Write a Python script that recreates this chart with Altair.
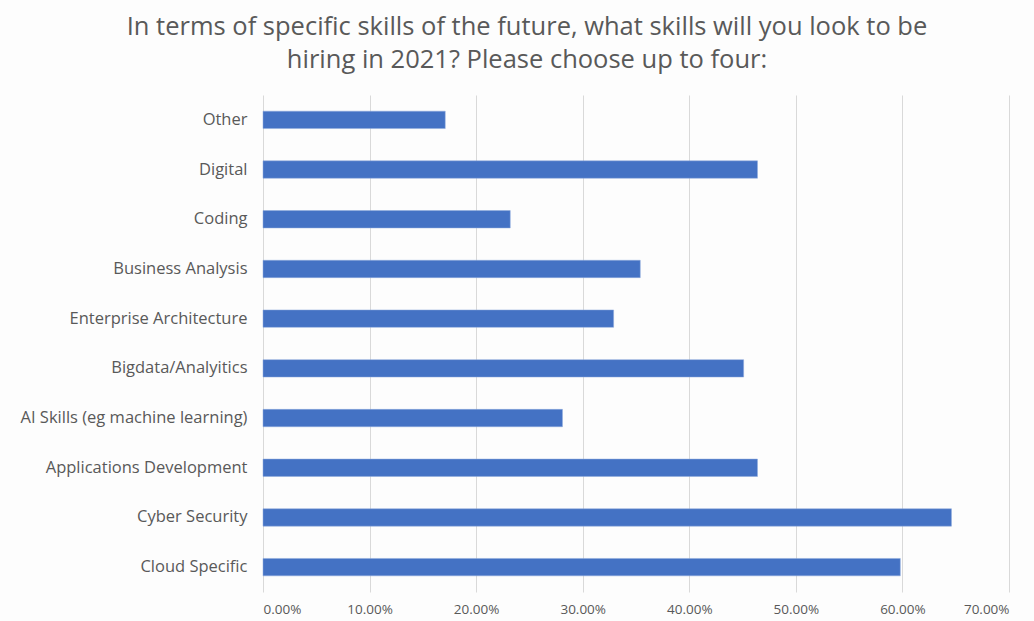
import altair as alt
import pandas as pd

skills = ["Other", "Digital", "Coding", "Business Analysis", "Enterprise Architecture",
          "Bigdata/Analyitics", "AI Skills (eg machine learning)", "Applications Development",
          "Cyber Security", "Cloud Specific"]
shares = [0.171, 0.464, 0.232, 0.354, 0.329, 0.451, 0.281, 0.464, 0.646, 0.598]

df = pd.DataFrame({"skill": skills, "share": shares})

FONT = "Open Sans"
GREY = "#595959"

chart = alt.Chart(df).mark_bar(color="#4472C4", stroke="#8faadc", strokeWidth=0.5).encode(
    x=alt.X("share:Q", scale=alt.Scale(domain=[0, 0.7], nice=False),
            axis=alt.Axis(format=".2%", values=[0, 0.1, 0.2, 0.3, 0.4, 0.5, 0.6, 0.7],
                          title=None, domain=False, ticks=False, grid=True,
                          gridColor="#d9d9d9", gridWidth=1, labelPadding=10,
                          labelFont=FONT, labelFontSize=13.5, labelColor=GREY)),
    y=alt.Y("skill:N", sort=skills, scale=alt.Scale(paddingInner=0.65, paddingOuter=0.325),
            axis=alt.Axis(title=None, domain=False, ticks=False, labelPadding=16,
                          labelFont=FONT, labelFontSize=16.5, labelColor=GREY, labelLimit=400)),
).properties(
    width=746, height=497,
    title=alt.TitleParams(
        ["In terms of specific skills of the future, what skills will you look to be",
         "hiring in 2021? Please choose up to four:"],
        font=FONT, fontSize=25.5, fontWeight="normal", color=GREY, anchor="middle",
        dx=-109, offset=22, lineHeight=33),
    autosize="none",
    padding={"left": 263, "top": 95, "right": 25, "bottom": 29},
    background="#fdfdfd",
).configure_view(stroke=None)

chart.save("out.html", embed_options={"renderer": "svg", "actions": False})
